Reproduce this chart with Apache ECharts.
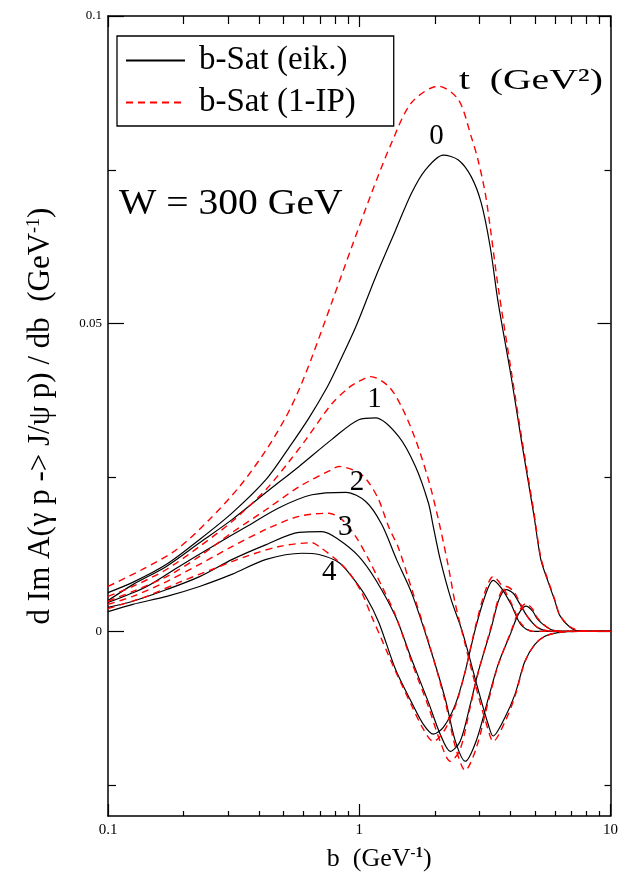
<!DOCTYPE html>
<html><head><meta charset="utf-8">
<script src="https://cdn.jsdelivr.net/npm/echarts@6/dist/echarts.min.js"></script>
<style>html,body{margin:0;padding:0;background:#fff}#c{width:621px;height:883px}</style>
</head><body><div id="c"></div>
<script>
// ---- data: [b (GeV^-1), dImA/db (GeV^-1)] ----
const t0Eik = [[0.1,0.0063],[0.126,0.0080],[0.171,0.0109],[0.231,0.0149],[0.313,0.0193],[0.426,0.0247],[0.526,0.0299],[0.631,0.0347],[0.743,0.0396],[0.815,0.0429],[0.969,0.0495],[1.162,0.0576],[1.395,0.0652],[1.614,0.0712],[1.834,0.0750],[2.16,0.0774],[2.48,0.0766],[2.79,0.0739],[3.06,0.0696],[3.32,0.0625],[3.57,0.0535],[4.02,0.0415],[4.44,0.0305],[4.95,0.0190],[5.28,0.0117],[5.63,0.0082],[6.0,0.0050],[6.28,0.0026],[6.88,0.0007],[7.6,0],[10,0]];
const t0IP  = [[0.1,0.0073],[0.1376,0.0101],[0.1876,0.0133],[0.2535,0.0182],[0.3333,0.0235],[0.4264,0.0295],[0.5117,0.0349],[0.576,0.0393],[0.6486,0.0446],[0.7783,0.0535],[0.934,0.0625],[1.121,0.0713],[1.345,0.0794],[1.614,0.0859],[2.065,0.0886],[2.48,0.0864],[2.79,0.0804],[2.97,0.0766],[3.17,0.0713],[3.32,0.0657],[3.57,0.0560],[4.02,0.0425],[4.44,0.0312],[4.95,0.0195],[5.28,0.0120],[5.63,0.0084],[6.0,0.0052],[6.28,0.0027],[6.88,0.0008],[7.6,0.0001],[10,0]];
const t1Eik = [[0.1,0.0050],[0.1256,0.0076],[0.1713,0.0106],[0.2314,0.0144],[0.3126,0.0182],[0.4264,0.0226],[0.576,0.0268],[0.7783,0.0312],[0.9954,0.0344],[1.162,0.0347],[1.434,0.0317],[1.674,0.0268],[1.884,0.0209],[1.972,0.0170],[2.10,0.0117],[2.32,0.0052],[2.57,0],[2.97,-0.0094],[3.26,-0.0151],[3.41,-0.0170],[3.80,-0.0140],[4.17,-0.0102],[4.56,-0.0049],[5.0,-0.0021],[5.48,-0.0008],[6.17,-0.0002],[7.5,0],[10,0]];
const t1IP  = [[0.1,0.0057],[0.1256,0.0073],[0.1713,0.0101],[0.2314,0.0138],[0.3126,0.0179],[0.4264,0.0231],[0.5258,0.0276],[0.614,0.0312],[0.778,0.0370],[0.909,0.0396],[0.995,0.0406],[1.11,0.0414],[1.309,0.0398],[1.474,0.0365],[1.674,0.0312],[1.884,0.0247],[2.065,0.0182],[2.262,0.0106],[2.411,0.0045],[2.64,-0.0021],[2.97,-0.0103],[3.26,-0.0160],[3.41,-0.0179],[3.80,-0.0147],[4.17,-0.0105],[4.56,-0.0050],[5.0,-0.0021],[5.48,-0.0008],[6.17,-0.0002],[7.5,0],[10,0]];
const t2Eik = [[0.1,0.0047],[0.1427,0.0073],[0.1928,0.0106],[0.2605,0.0138],[0.3552,0.0170],[0.48,0.0201],[0.6486,0.0222],[0.884,0.0226],[1.061,0.0211],[1.228,0.0174],[1.407,0.0117],[1.614,0.0063],[1.884,-0.0018],[2.201,-0.0110],[2.411,-0.0178],[2.641,-0.0211],[2.92,-0.0178],[3.258,-0.0110],[3.569,-0.0054],[4.018,-0.0002],[4.3,0.0028],[4.606,0.0041],[4.9,0.0033],[5.14,0.0019],[5.79,0.0003],[6.57,0],[10,0]];
const t2IP  = [[0.1,0.0049],[0.1256,0.0065],[0.1713,0.0089],[0.2314,0.0122],[0.3126,0.0161],[0.4264,0.0198],[0.576,0.0235],[0.778,0.0263],[0.8295,0.0268],[0.9954,0.0258],[1.09,0.0242],[1.195,0.0214],[1.309,0.0170],[1.434,0.0135],[1.614,0.0070],[1.884,-0.0016],[2.201,-0.0115],[2.411,-0.0187],[2.641,-0.0226],[2.92,-0.0190],[3.258,-0.0115],[3.569,-0.0055],[4.018,0],[4.3,0.0031],[4.606,0.0045],[4.9,0.0036],[5.14,0.0021],[5.79,0.0003],[6.57,0],[10,0]];
const t3Eik = [[0.1,0.0039],[0.1256,0.0049],[0.1713,0.0068],[0.2314,0.0089],[0.3126,0.0117],[0.4264,0.0141],[0.576,0.0161],[0.7105,0.0162],[0.8295,0.0149],[0.9954,0.0122],[1.162,0.0084],[1.395,0.0024],[1.614,-0.0045],[1.884,-0.0115],[2.10,-0.0167],[2.303,-0.0195],[2.52,-0.0179],[2.765,-0.0119],[2.97,-0.0067],[3.349,0.0005],[3.6,0.0052],[3.839,0.0068],[4.1,0.0062],[4.28,0.0050],[4.69,0.0023],[5.14,0.0006],[5.9,0],[10,0]];
const t3IP  = [[0.1,0.0044],[0.1256,0.0057],[0.1713,0.0081],[0.2314,0.0109],[0.3126,0.0138],[0.4264,0.0166],[0.576,0.0187],[0.757,0.0192],[0.852,0.0182],[0.9685,0.0154],[1.09,0.0117],[1.228,0.0074],[1.395,0.0026],[1.614,-0.0049],[1.884,-0.0122],[2.10,-0.0179],[2.303,-0.0211],[2.52,-0.0192],[2.765,-0.0123],[2.97,-0.0068],[3.349,0.0008],[3.6,0.0056],[3.839,0.0073],[4.1,0.0066],[4.28,0.0053],[4.69,0.0023],[5.14,0.0006],[5.9,0],[10,0]];
const t4Eik = [[0.1,0.0032],[0.1256,0.0044],[0.1713,0.0057],[0.2314,0.0073],[0.3126,0.0093],[0.4264,0.0117],[0.592,0.0127],[0.6914,0.0125],[0.8295,0.0112],[0.934,0.0089],[1.061,0.0057],[1.195,0.0015],[1.395,-0.0062],[1.614,-0.0115],[1.80,-0.0151],[1.972,-0.0167],[2.161,-0.0156],[2.411,-0.0119],[2.641,-0.0065],[2.893,0.0003],[3.17,0.0058],[3.41,0.0083],[3.667,0.0071],[4.018,0.0044],[4.40,0.0011],[4.91,0],[10,0]];
const t4IP  = [[0.1,0.0037],[0.1427,0.0057],[0.1928,0.0080],[0.2605,0.0101],[0.3552,0.0122],[0.48,0.0138],[0.6486,0.0144],[0.6914,0.0138],[0.807,0.0117],[0.909,0.0096],[1.023,0.0063],[1.121,0.0024],[1.228,-0.0013],[1.395,-0.0065],[1.614,-0.0120],[1.80,-0.0159],[1.972,-0.0179],[2.161,-0.0164],[2.411,-0.0122],[2.641,-0.0065],[2.893,0.0006],[3.17,0.0065],[3.41,0.0089],[3.667,0.0076],[4.018,0.0047],[4.40,0.0013],[4.91,0],[10,0]];

const seriesNames = ['b-Sat (eik.)', 'b-Sat (1-IP)'];
const xMajorTicks = [0.1, 1, 10];
const xTickLabels = ['0.1', '1', '10'];
const xMinorTicks = [0.2,0.3,0.4,0.5,0.6,0.7,0.8,0.9,2,3,4,5,6,7,8,9];
const yMajorTicks = [0, 0.05, 0.1];
const yTickLabels = ['0', '0.05', '0.1'];
const yMinorTicks = [-0.025, 0.025, 0.075];
const curveLabels = ['0', '1', '2', '3', '4'];
const curveLabelB = [2.03, 1.15, 0.98, 0.88, 0.76];
const curveLabelY = [0.0804, 0.0377, 0.0242, 0.0169, 0.0096];

const FONT = "'Liberation Serif','Times New Roman',serif";
const BLACK = '#000000', RED = '#ff0000';
const eikCurves = [t0Eik, t1Eik, t2Eik, t3Eik, t4Eik];
const ipCurves = [t0IP, t1IP, t2IP, t3IP, t4IP];

const chart = echarts.init(document.getElementById('c'), null, {renderer: 'canvas'});
const tickStyle = {color: BLACK, width: 1.2};
const lineSt = {color: BLACK, width: 1.5};

function logAx(pos, len, withLabels) {
  return {
    type: 'log', logBase: 10, min: 0.1, max: 10, position: pos, gridIndex: 0,
    axisLine: {show: true, onZero: false, lineStyle: lineSt},
    axisTick: {show: true, inside: true, length: len, lineStyle: tickStyle},
    axisLabel: {show: withLabels, margin: 7, color: BLACK, fontFamily: FONT, fontSize: 15,
      formatter: v => { let best = 0; xMajorTicks.forEach((t, i) => { if (Math.abs(Math.log10(t) - Math.log10(v)) < Math.abs(Math.log10(xMajorTicks[best]) - Math.log10(v))) best = i; }); return xTickLabels[best]; }},
    splitLine: {show: false}, minorTick: {show: false}
  };
}
function minorXAx(pos, len) {
  return {
    type: 'value', min: -1, max: 1, position: pos, gridIndex: 0,
    axisLine: {show: false, onZero: false},
    axisTick: {show: true, inside: true, length: len, lineStyle: tickStyle, customValues: xMinorTicks.map(v => Math.log10(v))},
    axisLabel: {show: false}, splitLine: {show: false}
  };
}
function yAx(pos, len, ticks, withLabels, showLine) {
  return {
    type: 'value', min: -0.03, max: 0.1, position: pos, gridIndex: 0,
    axisLine: {show: showLine, onZero: false, lineStyle: lineSt},
    axisTick: {show: true, inside: true, length: len, lineStyle: tickStyle, customValues: ticks},
    axisLabel: {show: withLabels, margin: 6, color: BLACK, fontFamily: FONT, fontSize: 13,
      customValues: yMajorTicks,
      formatter: v => { const i = yMajorTicks.findIndex(t => Math.abs(t - v) < 1e-9); return i >= 0 ? yTickLabels[i] : ''; }},
    splitLine: {show: false}
  };
}

const xMain = logAx('bottom', 12, true);
xMain.name = '{n|b  (GeV}{s|-1}{n|)}';
xMain.nameLocation = 'middle';
xMain.nameGap = 30;
xMain.nameTextStyle = {color: BLACK, fontFamily: FONT, fontSize: 26, padding: [0, 0, 0, 40],
  rich: {n: {fontFamily: FONT, fontSize: 26, color: BLACK}, s: {fontFamily: FONT, fontSize: 15, color: BLACK, fontWeight: 'bold', verticalAlign: 'top'}}};

const yMain = yAx('left', 16, yMajorTicks, true, true);
yMain.name = '{n|d Im A(γ p -> J/ψ p) / db  (GeV}{s|-1}{n|)}';
yMain.nameLocation = 'middle';
yMain.nameRotate = 90;
yMain.nameGap = 52;
yMain.nameTextStyle = {color: BLACK, fontFamily: FONT, fontSize: 31,
  rich: {n: {fontFamily: FONT, fontSize: 31, color: BLACK}, s: {fontFamily: FONT, fontSize: 18, color: BLACK, verticalAlign: 'top'}}};

const series = [];
eikCurves.forEach(d => series.push({
  name: seriesNames[0], type: 'line', data: d, symbol: 'none', smooth: 0.3, silent: true,
  xAxisIndex: 0, yAxisIndex: 0, z: 2,
  lineStyle: {color: BLACK, width: 1.2}, itemStyle: {color: BLACK}
}));
ipCurves.forEach(d => series.push({
  name: seriesNames[1], type: 'line', data: d, symbol: 'none', smooth: 0.3, silent: true,
  xAxisIndex: 0, yAxisIndex: 0, z: 3,
  lineStyle: {color: RED, width: 1.4, type: [7, 5]}, itemStyle: {color: RED}
}));

chart.setOption({
  animation: false,
  backgroundColor: '#ffffff',
  grid: {left: 108, top: 16, width: 505, height: 800, containLabel: false},
  xAxis: [xMain, minorXAx('bottom', 5), logAx('top', 11, false), minorXAx('top', 8)],
  yAxis: [yMain, yAx('left', 8, yMinorTicks, false, false), yAx('right', 13, yMajorTicks, false, true), yAx('right', 6, yMinorTicks, false, false)],
  legend: {
    data: seriesNames, orient: 'vertical', left: 117, top: 36,
    backgroundColor: '#ffffff', borderColor: BLACK, borderWidth: 1.3, borderRadius: 0,
    padding: [8, 38, 7, 8], itemWidth: 59, itemHeight: 14, itemGap: 9,
    itemStyle: {opacity: 0},
    textStyle: {fontFamily: FONT, fontSize: 33, color: BLACK, padding: [0, 0, 0, 9]},
    selectedMode: false
  },
  series: series
});

const graphics = [];
curveLabels.forEach((txt, i) => {
  const p = chart.convertToPixel({xAxisIndex: 0, yAxisIndex: 0}, [curveLabelB[i], curveLabelY[i]]);
  graphics.push({type: 'text', id: 'cl' + i, x: p[0], y: p[1], z: 10, silent: true,
    style: {text: txt, fontFamily: FONT, fontSize: 29, fill: BLACK, textAlign: 'center', textVerticalAlign: 'middle', align: 'center', verticalAlign: 'middle'}});
});
graphics.push({type: 'text', id: 'w', x: 119, y: 205, scaleX: 1.1, z: 10, silent: true,
  style: {text: 'W = 300 GeV', fontFamily: FONT, fontSize: 36, fill: BLACK, textAlign: 'left', textVerticalAlign: 'middle', align: 'left', verticalAlign: 'middle'}});
graphics.push({type: 'text', id: 'tg', x: 459, y: 81, scaleX: 1.32, z: 10, silent: true,
  style: {text: 't  (GeV²)', fontFamily: FONT, fontSize: 30, fill: BLACK, textAlign: 'left', textVerticalAlign: 'middle', align: 'left', verticalAlign: 'middle'}});
chart.setOption({graphic: graphics});
</script></body></html>
